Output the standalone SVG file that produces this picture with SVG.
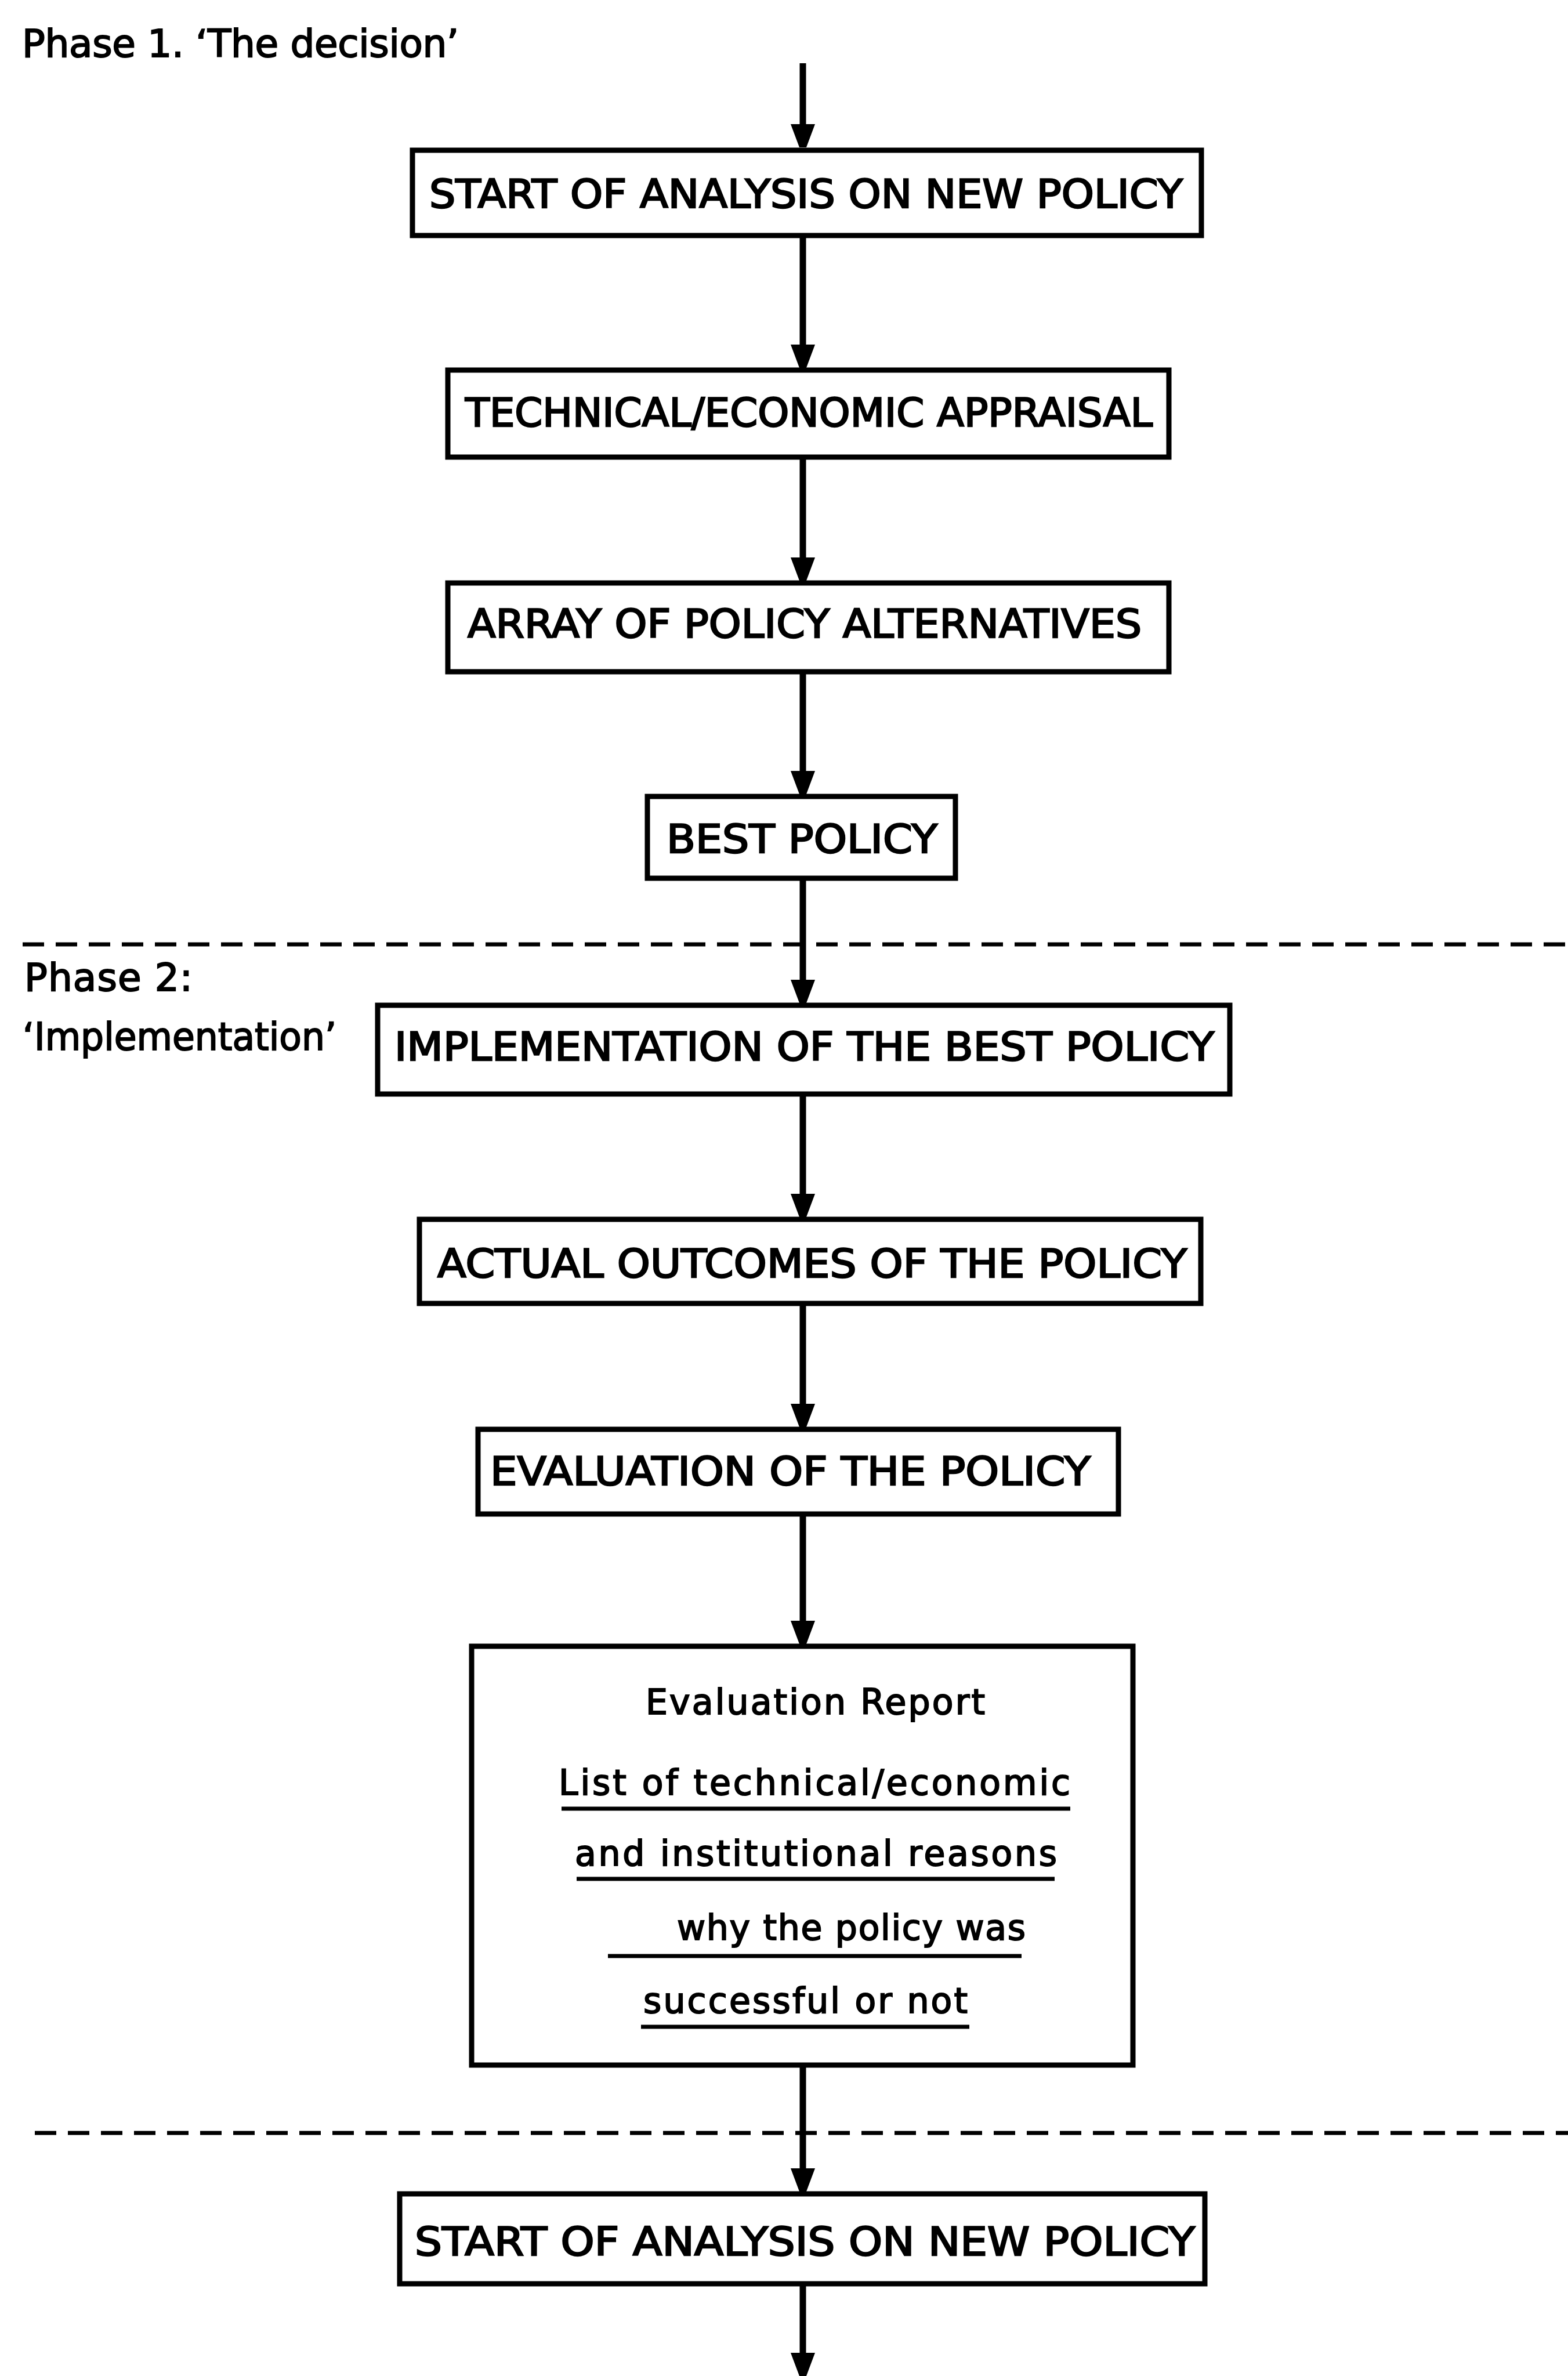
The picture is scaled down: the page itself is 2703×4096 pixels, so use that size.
<svg xmlns="http://www.w3.org/2000/svg" width="2703" height="4096" viewBox="0 0 2703 4096">
<style>
.bg{fill:#fff}
.box{fill:#fff;stroke:#000;stroke-width:9}
.lbl{font-family:"DejaVu Sans","Liberation Sans",sans-serif;font-size:68px;fill:#000;stroke:#000;stroke-width:2.5}
.txt{font-family:"DejaVu Sans","Liberation Sans",sans-serif;font-size:60px;fill:#000;stroke:#000;stroke-width:2}
.ph{font-family:"DejaVu Sans","Liberation Sans",sans-serif;font-size:66px;fill:#000;stroke:#000;stroke-width:2}
.ul{stroke:#000;stroke-width:7;fill:none}
.con{stroke:#000;stroke-width:11;fill:none;marker-end:url(#ah)}
.dash{stroke:#000;stroke-width:7;stroke-dasharray:37 20;fill:none}
</style>
<defs>
<marker id="ah" markerUnits="userSpaceOnUse" markerWidth="40" markerHeight="42" refX="40" refY="21" orient="auto">
<path d="M0,0 L40,15 L40,27 L0,42 Z" fill="#000"/>
</marker>
</defs>
<rect class="bg" x="0" y="0" width="2703" height="4096"/>

<g id="phase-labels">
<text class="ph" x="38" y="98" textLength="753" lengthAdjust="spacing">Phase 1. ‘The decision’</text>
<text class="ph" x="42" y="1708" textLength="290" lengthAdjust="spacing">Phase 2:</text>
<text class="ph" x="39" y="1810" textLength="541" lengthAdjust="spacingAndGlyphs">‘Implementation’</text>
</g>

<g id="phase-dividers">
<line class="dash" x1="39" y1="1628" x2="2703" y2="1628"/>
<line class="dash" x1="60" y1="3677" x2="2703" y2="3677"/>
</g>

<g id="connectors">
<line class="con" x1="1384" y1="109" x2="1384" y2="254"/>
<line class="con" x1="1384" y1="406" x2="1384" y2="634"/>
<line class="con" x1="1384" y1="788" x2="1384" y2="1001"/>
<line class="con" x1="1384" y1="1158" x2="1384" y2="1369"/>
<line class="con" x1="1384" y1="1514" x2="1384" y2="1729"/>
<line class="con" x1="1384" y1="1886" x2="1384" y2="2098"/>
<line class="con" x1="1384" y1="2247" x2="1384" y2="2460"/>
<line class="con" x1="1384" y1="2610" x2="1384" y2="2834"/>
<line class="con" x1="1384" y1="3560" x2="1384" y2="3778"/>
<line class="con" x1="1384" y1="3937" x2="1384" y2="4096"/>
</g>

<g id="n1">
<rect class="box" x="711" y="259" width="1360" height="147"/>
<text class="lbl" x="740" y="358" textLength="1299" lengthAdjust="spacingAndGlyphs">START OF ANALYSIS ON NEW POLICY</text>
</g>
<g id="n2">
<rect class="box" x="772" y="638" width="1243" height="150"/>
<text class="lbl" x="802" y="735" textLength="1185" lengthAdjust="spacingAndGlyphs">TECHNICAL/ECONOMIC APPRAISAL</text>
</g>
<g id="n3">
<rect class="box" x="772" y="1005" width="1243" height="153"/>
<text class="lbl" x="806" y="1099" textLength="1162" lengthAdjust="spacingAndGlyphs">ARRAY OF POLICY ALTERNATIVES</text>
</g>
<g id="n4">
<rect class="box" x="1116" y="1373" width="531" height="141"/>
<text class="lbl" x="1149" y="1470" textLength="467" lengthAdjust="spacingAndGlyphs">BEST POLICY</text>
</g>
<g id="n5">
<rect class="box" x="651" y="1733" width="1469" height="153"/>
<text class="lbl" x="680" y="1828" textLength="1413" lengthAdjust="spacingAndGlyphs">IMPLEMENTATION OF THE BEST POLICY</text>
</g>
<g id="n6">
<rect class="box" x="723" y="2102" width="1347" height="145"/>
<text class="lbl" x="754" y="2202" textLength="1292" lengthAdjust="spacingAndGlyphs">ACTUAL OUTCOMES OF THE POLICY</text>
</g>
<g id="n7">
<rect class="box" x="824" y="2464" width="1104" height="146"/>
<text class="lbl" x="845" y="2560" textLength="1035" lengthAdjust="spacingAndGlyphs">EVALUATION OF THE POLICY</text>
</g>
<g id="n8">
<rect class="box" x="813" y="2838" width="1140" height="722"/>
<text class="txt" x="1113" y="2955" textLength="585" lengthAdjust="spacing">Evaluation Report</text>
<text class="txt" x="963" y="3094" textLength="882" lengthAdjust="spacing">List of technical/economic</text>
<line class="ul" x1="968" y1="3118" x2="1845" y2="3118"/>
<text class="txt" x="991" y="3216" textLength="831" lengthAdjust="spacing">and institutional reasons</text>
<line class="ul" x1="994" y1="3239" x2="1818" y2="3239"/>
<text class="txt" x="1167" y="3344" textLength="601" lengthAdjust="spacing">why the policy was</text>
<line class="ul" x1="1048" y1="3372" x2="1761" y2="3372"/>
<text class="txt" x="1109" y="3470" textLength="559" lengthAdjust="spacing">successful or not</text>
<line class="ul" x1="1105" y1="3494" x2="1671" y2="3494"/>
</g>
<g id="n9">
<rect class="box" x="689" y="3782" width="1388" height="155"/>
<text class="lbl" x="715" y="3888" textLength="1345" lengthAdjust="spacingAndGlyphs">START OF ANALYSIS ON NEW POLICY</text>
</g>
</svg>
